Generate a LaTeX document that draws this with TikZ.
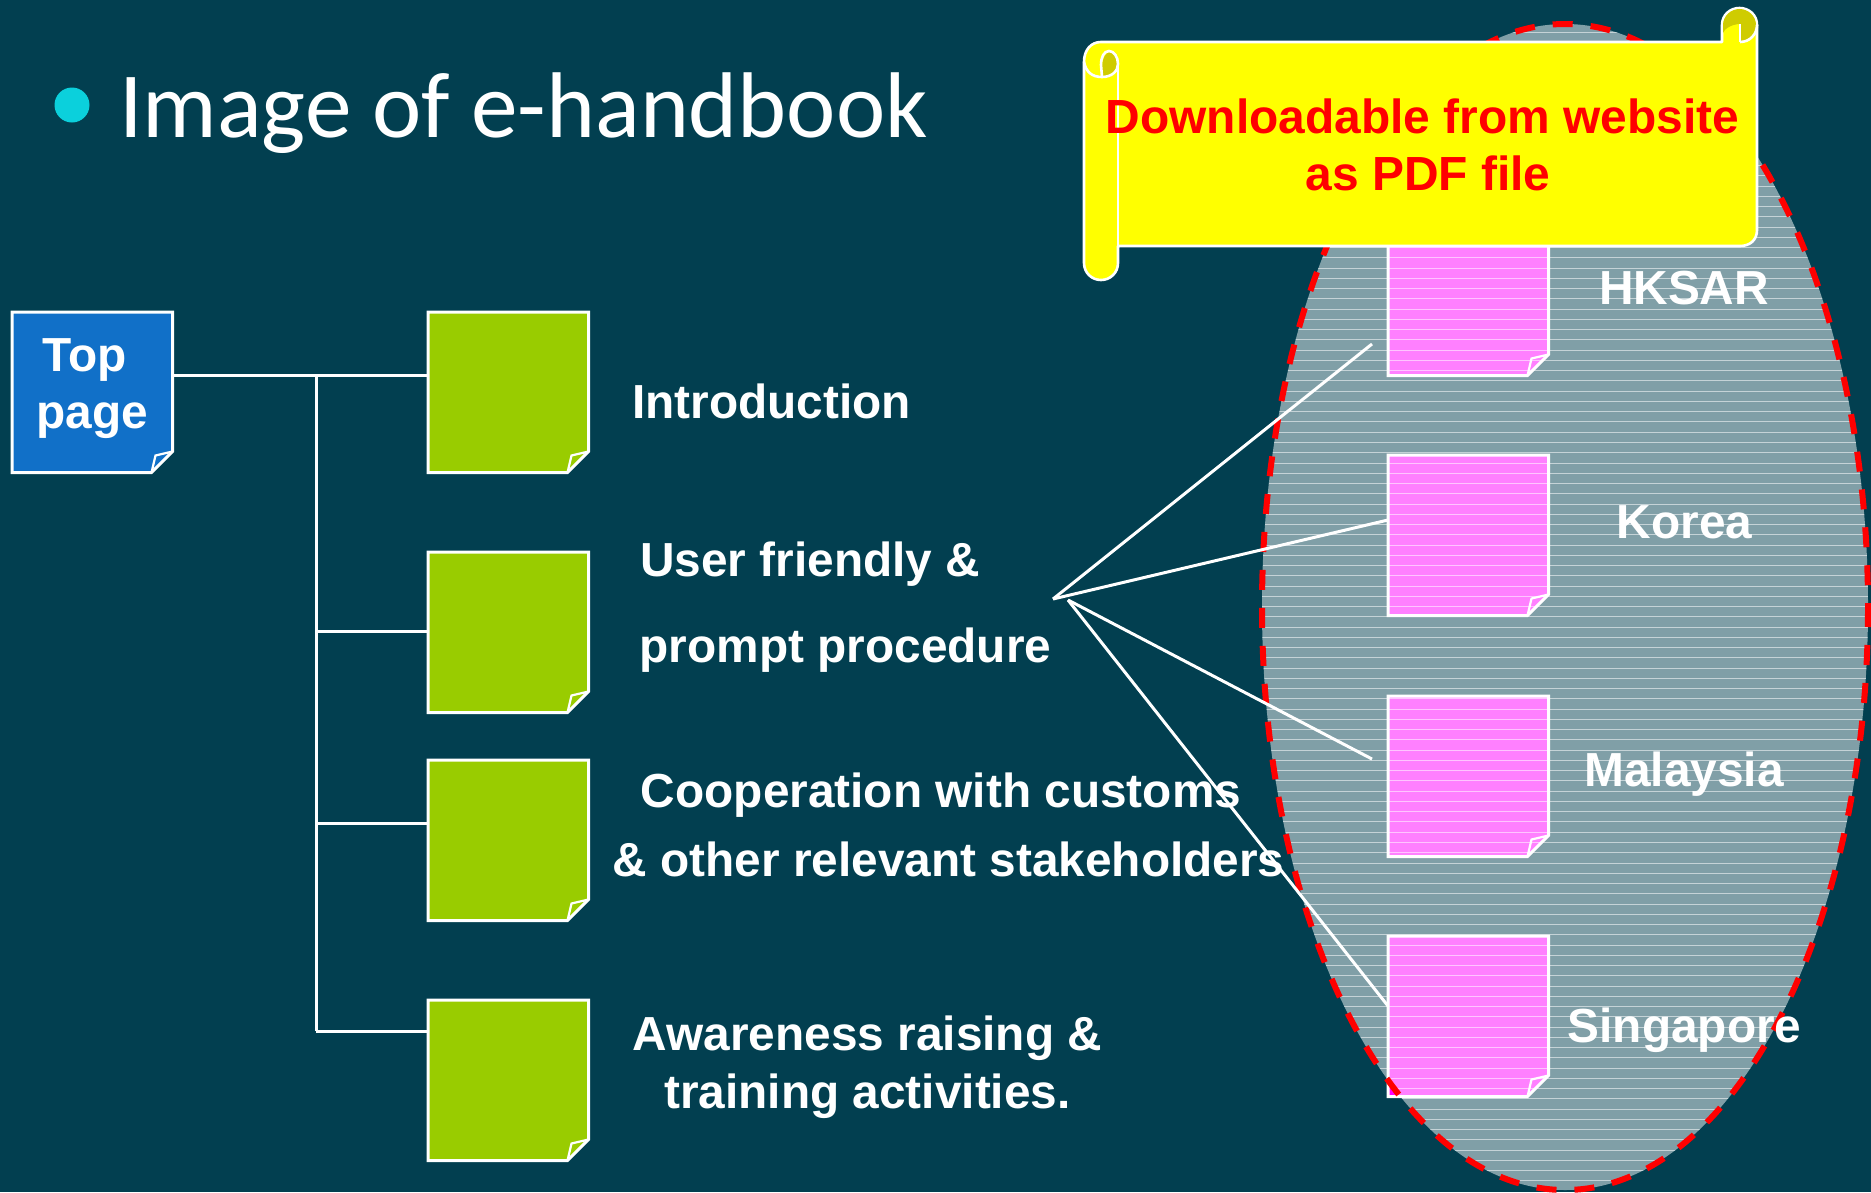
\documentclass[tikz,border=0pt]{standalone}
\usepackage{fontspec}
\setmainfont{Liberation Sans}
\newfontfamily\titlefont{Carlito}
\definecolor{bgc}{HTML}{023F50}
\definecolor{bluec}{HTML}{1170C8}
\definecolor{greenc}{HTML}{99CC00}
\definecolor{pinkc}{HTML}{FF00FF}
\definecolor{yellowc}{HTML}{FFFF00}
\definecolor{olivec}{HTML}{CFCC00}
\definecolor{cyanc}{HTML}{0BD0DC}
\tikzset{
 wire/.style={draw=white,line width=3pt},
 noteline/.style={draw=white,line width=3pt,line join=miter},
 notenode/.style={minimum width=160.5pt,minimum height=160.5pt,inner sep=0pt,outer sep=0pt,anchor=north west},
 lab/.style={font=\fontsize{47.8pt}{49pt}\selectfont\bfseries,text=white,inner sep=0pt,anchor=base},
 lableft/.style={lab,anchor=base west},
 redlab/.style={font=\fontsize{47.9pt}{49pt}\selectfont\bfseries,text=red,inner sep=0pt,anchor=base},
 scrollline/.style={draw=white,line width=2.6pt},
}
\newcommand{\notebox}[4]{%
 \node[notenode] (#1) at (#2,#3) {};
 \draw[noteline,fill=#4] (#2,#3) -- ++(160.5,0) -- ++(0,139.5) -- ++(-21,21) -- ++(-139.5,0) -- cycle;
 \draw[noteline,line width=2.2pt] (#2,#3) ++(160.5,139.5) -- ++(-17,4) -- ++(-4,17);
}
\begin{document}
\begin{tikzpicture}[x=1pt,y=-1pt]
\useasboundingbox (0,0) rectangle (1871,1192);
\fill[bgc] (0,0) rectangle (1871,1192);
% title
\fill[cyanc] (72,105) circle (17.5);
\node[font=\titlefont\fontsize{93.3pt}{95pt}\selectfont,text=white,inner sep=0pt,anchor=base west] (title) at (119,137) {Image of e-handbook};
% notes
\notebox{topn}{12}{312}{bluec}
\notebox{g1}{428}{312}{greenc}
\notebox{g2}{428}{552}{greenc}
\notebox{g3}{428}{760}{greenc}
\notebox{g4}{428}{1000}{greenc}
\notebox{p1}{1388}{215}{pinkc}
\notebox{p2}{1388}{455}{pinkc}
\notebox{p3}{1388}{696}{pinkc}
\notebox{p4}{1388}{936}{pinkc}
% connectors of the tree
\coordinate (j0) at (316,375);
\coordinate (j2) at (316,631);
\coordinate (j3) at (316,823);
\coordinate (j4) at (316,1031);
\draw[wire] (topn.east |- j0) -- (g1.west |- j0);
\draw[wire] (j0) -- (j4);
\draw[wire] (j2) -- (g2.west |- j2);
\draw[wire] (j3) -- (g3.west |- j3);
\draw[wire] (j4) -- (g4.west |- j4);
% ellipse
\begin{scope}
 \clip (1565,607) ellipse [x radius=303,y radius=583];
 \fill[white,opacity=.5] (1250,0) rectangle (1871,1192);
 \foreach \i in {0,...,114}{
  \draw[white,opacity=.55,line width=1pt] (1250,22+\i*10.256) -- (1871,22+\i*10.256);
 }
\end{scope}
\draw[red,line width=6pt,dash pattern=on 20pt off 18pt] (1565,607) ellipse [x radius=303,y radius=583];
% spread connectors
\coordinate (h1) at (1053,599);
\coordinate (h2) at (1068,600);
\coordinate (e1) at (1372,344);
\coordinate (e3) at (1372,759);
\coordinate (e2) at (1388,520);
\coordinate (e4) at (1388,1006);
\draw[wire] (h1) -- (e1);
\draw[wire] (h1) -- (e2);
\draw[wire] (h2) -- (e3);
\draw[wire] (h2) -- (e4);
% labels
\node[lab] (t1) at (85,371) {Top};
\node[lab] (t2) at (92,428) {page};
\node[lableft] (l1) at (632,418) {Introduction};
\node[lableft] (l2) at (640,576) {User friendly \&};
\node[lableft] (l3) at (639.5,662) {prompt procedure};
\node[lab] (l4) at (941,807) {Cooperation with customs};
\node[lab] (l5) at (948.5,876) {\& other relevant stakeholders};
\node[lab] (l6) at (867.5,1050) {Awareness raising \&};
\node[lab] (l7) at (867.5,1108) {training activities.};
\node[lab] (c1) at (1684,304) {HKSAR};
\node[lab] (c2) at (1684.5,538) {Korea};
\node[lab] (c3) at (1684,786) {Malaysia};
\node[lab] (c4) at (1684.5,1042) {Singapore};
% scroll
\draw[scrollline,fill=yellowc,line join=round]
 (1084,62) .. controls (1084,50) and (1091,42) .. (1101,42)
 -- (1722,42) -- (1722,25)
 .. controls (1722,15) and (1730,8) .. (1739.5,8)
 .. controls (1749,8) and (1757,15) .. (1757,25)
 -- (1757,230) .. controls (1757,240) and (1750,246) .. (1740,246)
 -- (1118,246) -- (1118,263)
 .. controls (1118,273) and (1110,280) .. (1101,280)
 .. controls (1092,280) and (1084,273) .. (1084,263) -- cycle;
% top right curl
\fill[olivec] (1723,25) .. controls (1723,16) and (1731,9) .. (1739.5,9)
 .. controls (1748,9) and (1756,16) .. (1756,25)
 .. controls (1756,33) and (1750,41) .. (1740,41.5) -- (1740,24)
 .. controls (1732,24) and (1724,29) .. (1723,33) -- cycle;
\draw[scrollline] (1740,24) -- (1740,42);
\draw[scrollline] (1740,42) .. controls (1750,42) and (1757,34) .. (1757,25);
% left curl
\fill[olivec] (1110,52) .. controls (1115,52) and (1118,58) .. (1118,64)
 .. controls (1118,70) and (1114,76) .. (1109,77) -- (1102,77)
 .. controls (1101,67) and (1102,54) .. (1110,52) -- cycle;
\draw[scrollline] (1084,62) .. controls (1086,72) and (1092,77) .. (1102,77)
 .. controls (1112,77) and (1118,71) .. (1118,64)
 .. controls (1118,57) and (1114,51) .. (1109,51)
 .. controls (1104,51) and (1101,57) .. (1101,65) -- (1102,77);
\draw[scrollline] (1118,64) -- (1118,246);
\node[redlab] (s1) at (1422.5,133) {Downloadable from website};
\node[redlab] (s2) at (1428,190) {as PDF file};
\end{tikzpicture}
\end{document}
